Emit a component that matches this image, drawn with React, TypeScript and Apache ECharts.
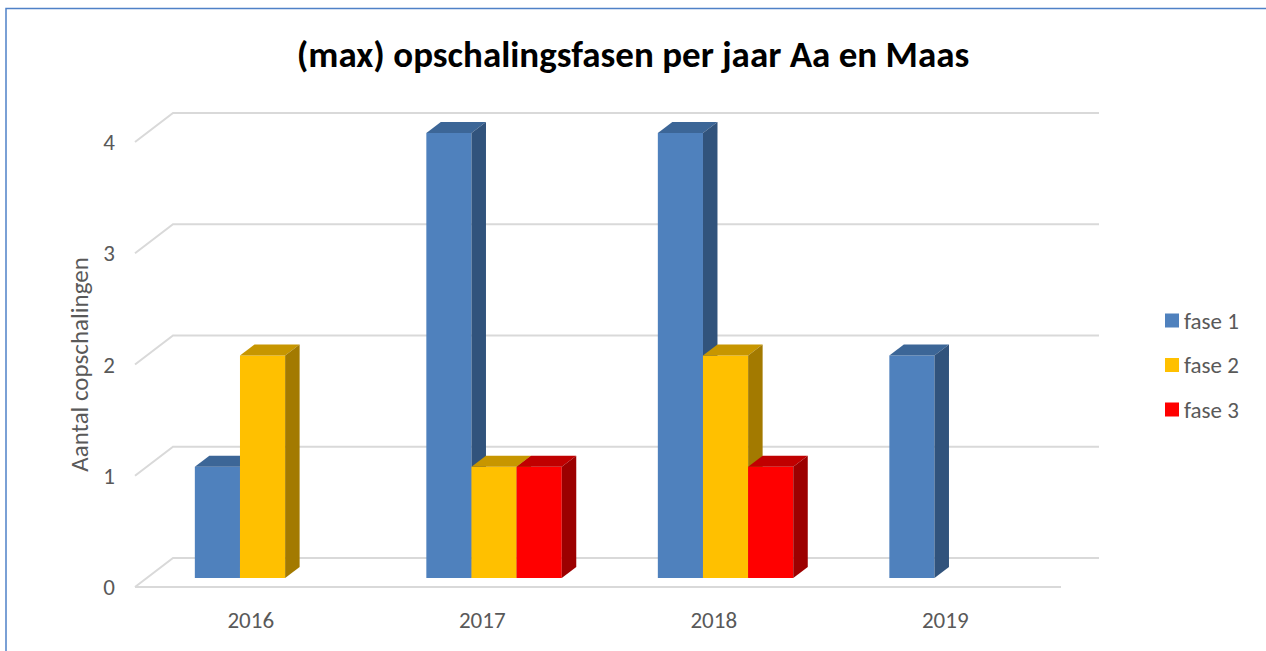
import React, { useEffect, useRef } from "react";
import * as echarts from "echarts";

const years = ["2016", "2017", "2018", "2019"];
const fase1 = [1, 4, 4, 2];
const fase2 = [2, 1, 2, 0];
const fase3 = [0, 1, 1, 0];
const yTicks = [0, 1, 2, 3, 4];
const seriesNames = ["fase 1", "fase 2", "fase 3"];

const FONT = "Carlito, Calibri, Lato, 'Open Sans', sans-serif";
// faces: front, top, side
const palettes = [
  { front: "#4f81bd", top: "#3c6697", side: "#31537c" },
  { front: "#ffc000", top: "#c79600", side: "#a37a00" },
  { front: "#ff0000", top: "#c00000", side: "#9c0000" },
];

// 3D depth geometry (pixels)
const DEPTH_DX = 38;
const DEPTH_DY = -29;
const BAR_OFF_DX = 11.8;
const BAR_OFF_DY = -9;
const BAR_DDX = 14.5;
const BAR_DDY = -11;

export default function App() {
  const ref = useRef<HTMLDivElement>(null);

  useEffect(() => {
    if (!ref.current) return;
    const chart = echarts.init(ref.current, null, { renderer: "svg" });

    const gridSeries = {
      type: "custom",
      name: "grid",
      z: 1,
      silent: true,
      data: yTicks.map((v) => [0, v]),
      renderItem: (params: any, api: any) => {
        const cs = params.coordSys;
        const v = api.value(1);
        const y = api.coord([0, v])[1];
        const x0 = cs.x;
        const x1 = cs.x + cs.width;
        const style = { stroke: "#d9d9d9", lineWidth: 2, fill: null };
        const children: any[] = [
          {
            type: "polyline",
            shape: {
              points: [
                [x0, y],
                [x0 + DEPTH_DX, y + DEPTH_DY],
                [x1 + DEPTH_DX, y + DEPTH_DY],
              ],
            },
            style,
          },
        ];
        if (v === 0) {
          children.push({
            type: "line",
            shape: { x1: x0, y1: y, x2: x1, y2: y },
            style,
          });
        }
        return { type: "group", children };
      },
    };

    const makeBarSeries = (name: string, values: number[], slot: number) => {
      const pal = palettes[slot];
      return {
        type: "custom",
        name,
        z: 2 + slot,
        itemStyle: { color: pal.front },
        data: values.map((v, i) => [i, v]),
        renderItem: (params: any, api: any) => {
          const idx = api.value(0);
          const v = api.value(1);
          if (!v) return null;
          const band = api.size([1, 0])[0];
          const w = band * 0.195;
          const top = api.coord([idx, v]);
          const base = api.coord([idx, 0]);
          const x = top[0] - 1.5 * w + slot * w + BAR_OFF_DX;
          const yTop = top[1] + BAR_OFF_DY;
          const yBase = base[1] + BAR_OFF_DY;
          return {
            type: "group",
            children: [
              {
                type: "rect",
                shape: { x, y: yTop, width: w, height: yBase - yTop },
                style: { fill: pal.front },
              },
              {
                type: "polygon",
                shape: {
                  points: [
                    [x, yTop],
                    [x + w, yTop],
                    [x + w + BAR_DDX, yTop + BAR_DDY],
                    [x + BAR_DDX, yTop + BAR_DDY],
                  ],
                },
                style: { fill: pal.top },
              },
              {
                type: "polygon",
                shape: {
                  points: [
                    [x + w, yTop],
                    [x + w + BAR_DDX, yTop + BAR_DDY],
                    [x + w + BAR_DDX, yBase + BAR_DDY],
                    [x + w, yBase],
                  ],
                },
                style: { fill: pal.side },
              },
            ],
          };
        },
      };
    };

    chart.setOption({
      animation: false,
      backgroundColor: "#ffffff",
      title: {
        text: "(max) opschalingsfasen per jaar Aa en Maas",
        left: "center",
        top: 31,
        textStyle: {
          fontFamily: FONT,
          fontSize: 37,
          fontWeight: "bold",
          color: "#000000",
        },
      },
      legend: {
        orient: "vertical",
        left: 1160,
        top: 304,
        itemWidth: 14,
        itemHeight: 14,
        itemGap: 21.5,
        icon: "rect",
        data: seriesNames,
        textStyle: { fontFamily: FONT, fontSize: 23, color: "#595959" },
      },
      grid: {
        left: 135,
        width: 926,
        top: 142,
        bottom: 64,
        containLabel: false,
      },
      xAxis: {
        type: "category",
        data: years,
        axisLine: { show: false },
        axisTick: { show: false },
        splitLine: { show: false },
        axisLabel: {
          margin: 21,
          fontFamily: FONT,
          fontSize: 23,
          color: "#595959",
        },
      },
      yAxis: {
        type: "value",
        min: 0,
        max: 4,
        interval: 1,
        name: "Aantal copschalingen",
        nameLocation: "middle",
        nameGap: 39,
        nameTextStyle: { fontFamily: FONT, fontSize: 25, color: "#595959" },
        axisLine: { show: false },
        axisTick: { show: false },
        splitLine: { show: false },
        axisLabel: {
          margin: 20,
          fontFamily: FONT,
          fontSize: 23,
          color: "#595959",
        },
      },
      graphic: [
        {
          type: "rect",
          silent: true,
          shape: { x: 6, y: 8.5, width: 1400, height: 800 },
          style: { fill: null, stroke: "#4f81c7", lineWidth: 1.5 },
          z: 0,
        },
      ],
      series: [
        gridSeries,
        makeBarSeries(seriesNames[0], fase1, 0),
        makeBarSeries(seriesNames[1], fase2, 1),
        makeBarSeries(seriesNames[2], fase3, 2),
      ],
    });

    return () => chart.dispose();
  }, []);

  return (
    <div
      ref={ref}
      style={{ position: "fixed", left: 0, top: 0, width: 1266, height: 651 }}
    />
  );
}
